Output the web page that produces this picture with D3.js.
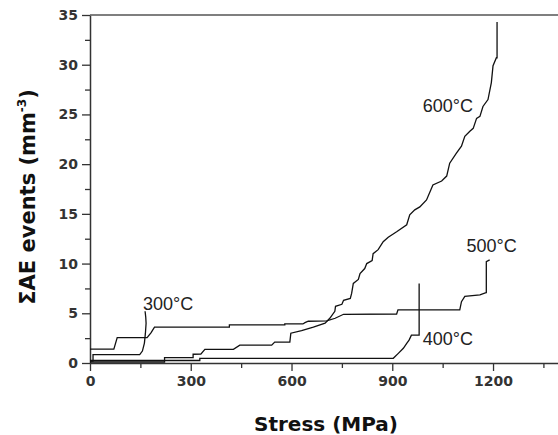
<!DOCTYPE html>
<html>
<head>
<meta charset="utf-8">
<script src="https://cdn.jsdelivr.net/npm/d3@7"></script>
<style>
  body { margin: 0; background: #fff; }
  svg { display: block; }
</style>
</head>
<body>
<svg id="chart"></svg>
<script>
// cumulative AE events vs stress
var xTicks = [0, 300, 600, 900, 1200];
var xMinor = [150, 450, 750, 1050, 1350];
var yTicks = [0, 5, 10, 15, 20, 25, 30, 35];
var yMinor = [2.5, 7.5, 12.5, 17.5, 22.5, 27.5, 32.5];

var s300 = [[0,0.2],[9,0.2],[9,0.85],[148,0.85],[156,1.2],[162,2.0],[165,3.0],[167,4.0],[166,4.6],[164,5.2]];
var s400 = [[0,0.25],[327,0.25],[327,0.47],[903,0.47],[918,0.97],[933,1.48],[943,1.98],[950,2.3],[957,2.8],[980,2.8],[980,8.0]];
var s500 = [[0,1.4],[71,1.4],[81,2.55],[170,2.55],[182,3.05],[192,3.6],[415,3.6],[415,3.83],[580,3.83],[580,3.93],[634,3.93],[640,4.06],[650,4.2],[705,4.23],[730,4.5],[755,4.9],[913,4.93],[917,5.34],[1101,5.34],[1106,6.17],[1116,6.7],[1161,6.85],[1179,7.08],[1180,7.08],[1180,10.2],[1190,10.37]];
var s600 = [[0,0.1],[222,0.1],[222,0.55],[307,0.55],[307,0.88],[330,0.9],[342,1.38],[427,1.38],[446,1.8],[541,1.8],[550,2.1],[595,2.1],[598,3.0],[630,3.25],[665,3.6],[700,4.0],[714,4.5],[729,5.2],[731,5.7],[750,5.9],[755,6.3],[775,6.5],[779,7.0],[784,8.0],[799,8.4],[804,9.0],[818,9.5],[824,10.0],[840,10.3],[843,11.0],[858,11.4],[873,12.2],[888,12.65],[913,13.2],[943,13.9],[952,14.9],[967,15.4],[982,15.7],[1002,16.4],[1021,17.9],[1047,18.3],[1062,18.8],[1071,20.1],[1091,21.1],[1106,21.8],[1116,22.8],[1131,23.3],[1141,23.6],[1151,24.6],[1161,24.8],[1170,25.8],[1185,26.5],[1195,28.2],[1200,29.9],[1210,30.7],[1212,30.7],[1212,34.3]];

var seriesList = [s300, s400, s500, s600];
var labelNames = ["300°C", "400°C", "500°C", "600°C"];
var labelPos = [[158,5.3],[991,1.8],[1121,11.2],[991,25.2]];

var width = 558, height = 435;
var svg = d3.select("#chart").attr("width", width).attr("height", height);

var x = d3.scaleLinear().domain([0, 1400]).range([90, 560.2]);
var y = d3.scaleLinear().domain([0, 35]).range([363, 15]);

var tickFont = "'DejaVu Sans', sans-serif";

// minor ticks first
svg.append("g")
   .attr("transform", "translate(0,363)")
   .call(d3.axisBottom(x).tickValues(xMinor).tickSize(5).tickFormat(""))
   .call(g => g.select(".domain").remove());
svg.append("g")
   .attr("transform", "translate(90,0)")
   .call(d3.axisLeft(y).tickValues(yMinor).tickSize(5).tickFormat(""))
   .call(g => g.select(".domain").remove());

var xAxis = svg.append("g")
   .attr("transform", "translate(0,363)")
   .call(d3.axisBottom(x).tickValues(xTicks).tickFormat(d3.format("d"))
           .tickSize(8).tickSizeOuter(0).tickPadding(5));
var yAxis = svg.append("g")
   .attr("transform", "translate(90,0)")
   .call(d3.axisLeft(y).tickValues(yTicks).tickFormat(d3.format("d"))
           .tickSize(8).tickSizeOuter(0).tickPadding(4));

svg.selectAll(".tick line").attr("stroke", "#333").attr("stroke-width", 1.3);
svg.selectAll(".domain").attr("stroke", "#333").attr("stroke-width", 1.5);
[xAxis, yAxis].forEach(function(a) {
  a.selectAll("text")
   .style("font-family", tickFont)
   .style("font-weight", "bold")
   .style("font-size", "14px")
   .attr("fill", "#333");
});

// top frame line
svg.append("line")
   .attr("x1", 90).attr("x2", width)
   .attr("y1", y(35)).attr("y2", y(35))
   .attr("stroke", "#555").attr("stroke-width", 1.5);

var line = d3.line()
             .x(function(d) { return x(d[0]); })
             .y(function(d) { return y(d[1]); });

svg.append("g").selectAll("path")
   .data(seriesList)
   .enter()
   .append("path")
   .attr("d", line)
   .attr("fill", "none")
   .attr("stroke", "#111")
   .attr("stroke-width", 1.3);

svg.append("g").selectAll("text")
   .data(labelNames)
   .enter()
   .append("text")
   .attr("x", function(d, i) { return x(labelPos[i][0]); })
   .attr("y", function(d, i) { return y(labelPos[i][1]); })
   .style("font-family", "'Liberation Sans', Arial, sans-serif")
   .style("font-size", "18px")
   .attr("fill", "#222")
   .text(function(d) { return d; });

// axis titles
svg.append("text")
   .attr("x", 326).attr("y", 431)
   .attr("text-anchor", "middle")
   .style("font-family", tickFont)
   .style("font-weight", "bold")
   .style("font-size", "20px")
   .attr("fill", "#111")
   .text("Stress (MPa)");

var yt = svg.append("text")
   .attr("transform", "translate(35,197) rotate(-90)")
   .attr("text-anchor", "middle")
   .style("font-family", tickFont)
   .style("font-weight", "bold")
   .style("font-size", "21px")
   .attr("fill", "#111");
yt.append("tspan").text("ΣAE events (mm");
yt.append("tspan").attr("dy", -9).style("font-size", "12px").text("-3");
yt.append("tspan").attr("dy", 9).text(")");
</script>
</body>
</html>
